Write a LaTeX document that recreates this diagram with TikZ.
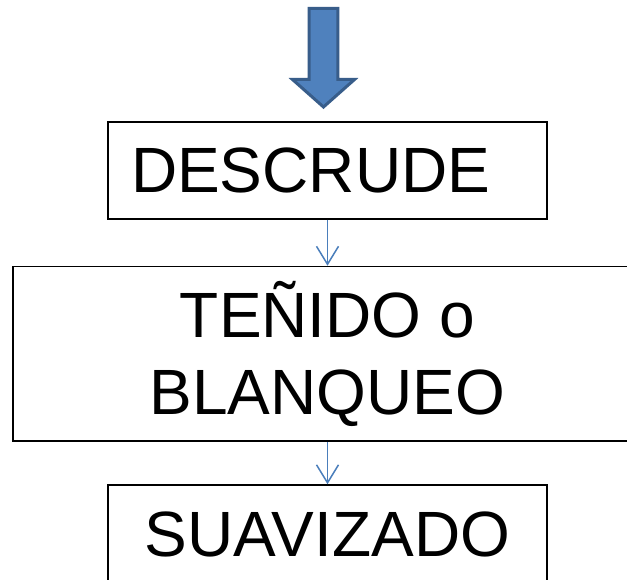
\documentclass[tikz,border=0pt]{standalone}
\usepackage{fontspec}
\setmainfont{Liberation Sans}
\usetikzlibrary{arrows.meta}
\definecolor{arrowfill}{HTML}{4F81BD}
\definecolor{arrowline}{HTML}{385D8A}
\definecolor{linkblue}{HTML}{4A7EBB}
\begin{document}
\begin{tikzpicture}[x=1pt, y=-1pt,
    stagebox/.style={draw, line width=1.5pt, inner sep=0pt, font=\fontsize{64}{77}\selectfont},
    link/.style={draw=linkblue, line width=1.5pt, -{Straight Barb[length=18pt, width=22pt]}},
    bigarrow/.style={fill=arrowfill, draw=arrowline, line width=3pt}]
    \clip (0,0) rectangle (627,580);
    \fill[white] (0,0) rectangle (627,580);

    \draw[bigarrow] (309.2,8.5) -- (337.8,8.5) -- (337.8,79.5) -- (354.5,79.5)
        -- (323.5,107) -- (292.5,79.5) -- (309.2,79.5) -- cycle;

    \node[stagebox, text width=393pt, inner xsep=23pt, align=left,
        minimum height=97pt] (descrude) at (327.5,170.5) {DESCRUDE};
    \node[stagebox, minimum width=629pt, minimum height=174.5pt,
        align=center] (tenido) at (327.5,353.75) {TEÑIDO o\\BLANQUEO};
    \node[stagebox, minimum width=439pt, minimum height=98pt]
        (suavizado) at (327.5,534) {SUAVIZADO};

    \draw[link] (descrude) -- (tenido);
    \draw[link] (tenido) -- (suavizado);
\end{tikzpicture}
\end{document}
